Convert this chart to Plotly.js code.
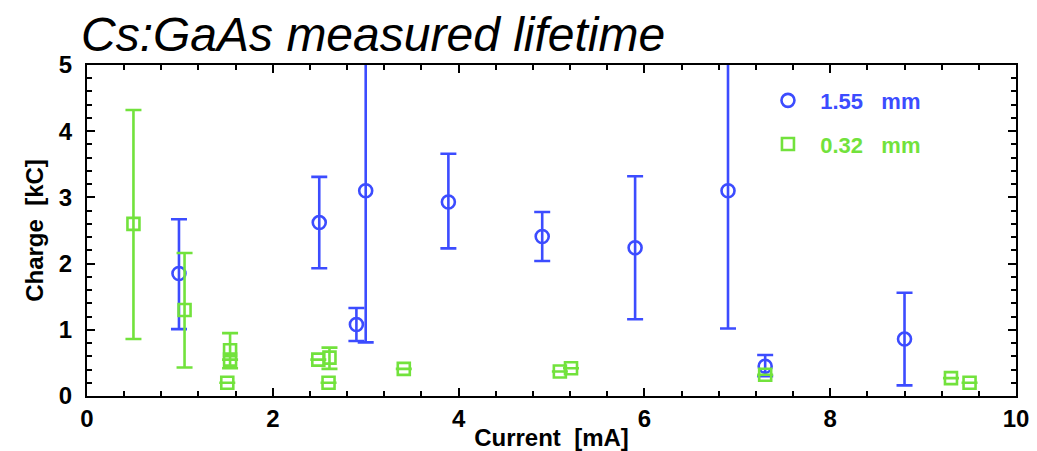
<!DOCTYPE html>
<html>
<head>
<meta charset="utf-8">
<script src="https://cdn.plot.ly/plotly-3.0.1.min.js"></script>
<style>
  html, body { margin: 0; padding: 0; background: #fff; }
  #chart { width: 1037px; height: 451px; }
</style>
</head>
<body>
<div id="chart"></div>
<script>
// ---- data ----
const blueName = "1.55  mm";
const blueX     = [0.99, 2.50, 2.90, 3.00, 3.89, 4.90, 5.90, 6.90, 7.30, 8.80];
const blueY     = [1.85, 2.62, 1.08, 3.10, 2.93, 2.41, 2.24, 3.10, 0.45, 0.86];
const blueUpper = [2.67, 3.31, 1.33, 5.60, 3.66, 2.78, 3.32, 5.60, 0.62, 1.56];
const blueLower = [1.01, 1.93, 0.83, 0.81, 2.23, 2.04, 1.16, 1.02, 0.30, 0.16];

const greenName = "0.32  mm";
const greenX     = [0.50, 1.05, 1.54, 1.54, 1.51, 2.49, 2.61, 2.60, 3.41, 5.09, 5.21, 7.30, 9.30, 9.50];
const greenY     = [2.60, 1.30, 0.69, 0.55, 0.20, 0.55, 0.58, 0.20, 0.41, 0.37, 0.42, 0.32, 0.27, 0.20];
const greenUpper = [4.32, 2.16, 0.95, null, null, null, 0.73, null, null, null, null, null, null, null];
const greenLower = [0.86, 0.43, 0.42, null, null, null, 0.41, null, null, null, null, null, null, null];

const xTickVals = [0, 2, 4, 6, 8, 10];
const yTickVals = [0, 1, 2, 3, 4, 5];

const chartTitle = "Cs:GaAs measured lifetime";
const xTitle = "Current  [mA]";
const yTitle = "Charge  [kC]";

// ---- styling ----
const BLUE = "#3c4cff";
const GREEN = "#72e23c";

function plus(v, u) { return u == null ? null : u - v; }
function minus(v, l) { return l == null ? null : v - l; }
function legendLabel(name, color) {
  return `<span style="color:${color}">&nbsp;&nbsp;${name.replace("  ", "&nbsp;&nbsp; ")}</span>`;
}

const traces = [
  {
    type: "scatter", mode: "markers",
    name: legendLabel(blueName, BLUE),
    legendgroup: "a",
    x: blueX, y: blueY,
    marker: { symbol: "circle-open", size: 13, color: BLUE, line: { width: 2.6, color: BLUE } },
    error_y: {
      type: "data", symmetric: false,
      array: blueY.map((v, i) => plus(v, blueUpper[i])),
      arrayminus: blueY.map((v, i) => minus(v, blueLower[i])),
      color: BLUE, thickness: 2.6, width: 8
    }
  },
  {
    type: "scatter", mode: "markers",
    name: legendLabel(greenName, GREEN),
    legendgroup: "b",
    x: greenX, y: greenY,
    marker: { symbol: "square-open", size: 12, color: GREEN, line: { width: 2.6, color: GREEN } },
    error_y: {
      type: "data", symmetric: false,
      array: greenY.map((v, i) => plus(v, greenUpper[i])),
      arrayminus: greenY.map((v, i) => minus(v, greenLower[i])),
      color: GREEN, thickness: 2.6, width: 8
    }
  }
];

const axisFont = { family: "Liberation Sans, Arial, sans-serif", size: 24, color: "#000", weight: "bold" };
const titleFont = { family: "Liberation Sans, Arial, sans-serif", size: 24, color: "#000", weight: "bold" };

const layout = {
  width: 1037, height: 451,
  margin: { l: 87, r: 21, t: 65, b: 55 },
  paper_bgcolor: "#fff", plot_bgcolor: "#fff",
  showlegend: true,
  legend: {
    x: 0.733, xanchor: "left", y: 0.956, yanchor: "top",
    bgcolor: "rgba(0,0,0,0)", borderwidth: 0,
    font: { family: "Liberation Sans, Arial, sans-serif", size: 22, weight: "bold" },
    traceorder: "grouped", tracegroupgap: 12
  },
  title: {
    text: `<i>${chartTitle}</i>`,
    x: 81 / 1037, xanchor: "left", xref: "container",
    y: 0.925, yanchor: "middle", yref: "container",
    font: { family: "Liberation Sans, Arial, sans-serif", size: 48, color: "#000" }
  },
  xaxis: {
    range: [0, 10], tickvals: xTickVals, ticktext: xTickVals.map(String),
    showgrid: false, zeroline: false,
    showline: true, linecolor: "#000", linewidth: 2, mirror: "allticks",
    ticks: "inside", ticklen: 8, tickwidth: 2, tickcolor: "#000",
    minor: { dtick: 0.4, tick0: 0, ticks: "inside", ticklen: 5, tickwidth: 2, tickcolor: "#000", showgrid: false },
    tickfont: axisFont, ticklabelstandoff: 0,
    title: { text: xTitle, font: titleFont, standoff: 0 }
  },
  yaxis: {
    range: [0, 5], tickvals: yTickVals, ticktext: yTickVals.map(String),
    showgrid: false, zeroline: false,
    showline: true, linecolor: "#000", linewidth: 2, mirror: "allticks",
    ticks: "inside", ticklen: 8, tickwidth: 2, tickcolor: "#000",
    minor: { dtick: 0.2, tick0: 0, ticks: "inside", ticklen: 5, tickwidth: 2, tickcolor: "#000", showgrid: false },
    tickfont: axisFont, ticklabelstandoff: 8,
    title: { text: yTitle, font: titleFont, standoff: 8 }
  }
};

Plotly.newPlot("chart", traces, layout, { displayModeBar: false, staticPlot: true });
</script>
</body>
</html>
